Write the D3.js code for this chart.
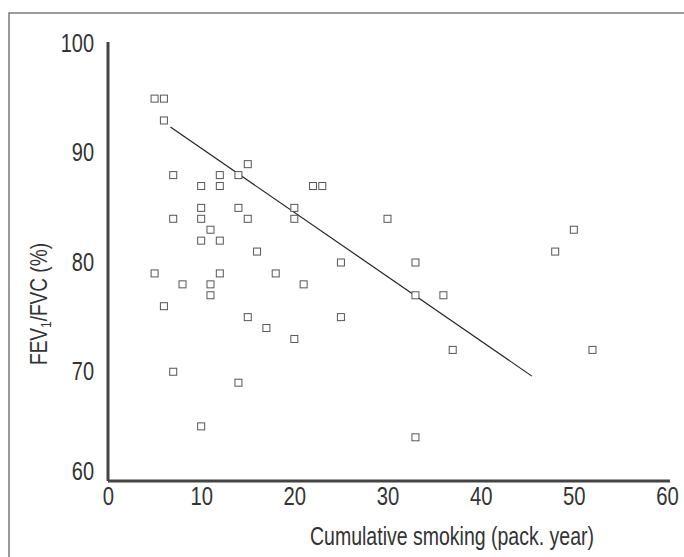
<!DOCTYPE html>
<html>
<head>
<meta charset="utf-8">
<script src="https://cdn.jsdelivr.net/npm/d3@7"></script>
<style>
  body { margin: 0; background: #fff; }
  svg { display: block; }
  text { font-family: "Liberation Sans Narrow", "Liberation Sans", sans-serif; fill: #333; }
</style>
</head>
<body>
<div id="painting"></div>
<script>
// smoking (pack. year) vs FEV1/FVC (%)
var packYears = [5, 6, 6, 15, 7, 12, 14, 10, 12, 22, 23, 10, 14, 20, 7, 10, 15, 20, 30, 11,
                 10, 12, 16, 48, 50, 25, 33, 5, 12, 18, 8, 11, 21, 11, 33, 36, 6, 15, 25, 17,
                 20, 37, 52, 7, 14, 10, 33];
var fevRatio = [95, 95, 93, 89, 88, 88, 88, 87, 87, 87, 87, 85, 85, 85, 84, 84, 84, 84, 84, 83,
                82, 82, 81, 81, 83, 80, 80, 79, 79, 79, 78, 78, 78, 77, 77, 77, 76, 75, 75, 74,
                73, 72, 72, 70, 69, 65, 64];

// regression line end points
var fitX = [6.7, 45.5];
var fitY = [92.4, 69.6];

var xTicks = [0, 10, 20, 30, 40, 50, 60];
var yTicks = [60, 70, 80, 90, 100];

var W = 684, H = 557;
var margin = {left: 108, top: 44, right: 17, bottom: 76};

var svg = d3.select("#painting").append("svg")
  .attr("width", W)
  .attr("height", H);

// frame
svg.append("rect")
  .attr("x", 9).attr("y", 13)
  .attr("width", W + 20).attr("height", H + 20)
  .attr("fill", "none")
  .attr("stroke", "#666")
  .attr("stroke-width", 1.3);

var xScale = d3.scaleLinear().domain([0, 60]).range([margin.left, W - margin.right]);
var yScale = d3.scaleLinear().domain([60, 100]).range([H - margin.bottom, margin.top]);

var xAxis = d3.axisBottom(xScale).tickValues(xTicks).tickSize(0);
var yAxis = d3.axisLeft(yScale).tickValues(yTicks).tickSize(0);

var gx = svg.append("g")
  .attr("transform", "translate(0," + yScale(60) + ")")
  .call(xAxis);
gx.select(".domain").remove();
gx.selectAll(".tick text")
  .attr("font-size", 26)
  .attr("fill", "#333")
  .attr("font-family", "'Liberation Sans Narrow', sans-serif")
  .attr("x", 0)
  .attr("y", 24)
  .attr("dy", 0)
  .attr("transform", "scale(0.78,1)");

var gy = svg.append("g")
  .attr("transform", "translate(" + xScale(0) + ",0)")
  .call(yAxis);
gy.select(".domain").remove();
gy.selectAll(".tick text")
  .attr("font-size", 25)
  .attr("fill", "#333")
  .attr("font-family", "'Liberation Sans Narrow', sans-serif")
  .attr("x", -14 / 0.8)
  .attr("dy", function(d) { return d === 60 ? "-0.05em" : "0.3em"; })
  .attr("transform", "scale(0.8,1)");

// axis lines
svg.append("line")
  .attr("x1", xScale(0)).attr("x2", xScale(0))
  .attr("y1", yScale(100) - 2).attr("y2", yScale(60))
  .attr("stroke", "#444").attr("stroke-width", 3);
svg.append("line")
  .attr("x1", xScale(0)).attr("x2", xScale(60) + 3)
  .attr("y1", yScale(60)).attr("y2", yScale(60))
  .attr("stroke", "#444").attr("stroke-width", 3);

// regression line
svg.append("line")
  .attr("x1", xScale(fitX[0])).attr("y1", yScale(fitY[0]))
  .attr("x2", xScale(fitX[1])).attr("y2", yScale(fitY[1]))
  .attr("stroke", "#222")
  .attr("stroke-width", 1.2);

// points
var pts = packYears.map(function(d, i) { return {x: d, y: fevRatio[i]}; });
var s = 7;
svg.append("g").selectAll("rect")
  .data(pts)
  .enter()
  .append("rect")
  .attr("x", function(d) { return xScale(d.x) - s / 2; })
  .attr("y", function(d) { return yScale(d.y) - s / 2; })
  .attr("width", s)
  .attr("height", s)
  .attr("fill", "#fff")
  .attr("stroke", "#555")
  .attr("stroke-width", 1);

// axis titles
svg.append("text")
  .attr("x", 310).attr("y", 545)
  .attr("font-size", 25)
  .attr("textLength", 284)
  .attr("lengthAdjust", "spacingAndGlyphs")
  .text("Cumulative smoking (pack. year)");

var yt = svg.append("text")
  .attr("transform", "translate(47,365) rotate(-90)")
  .attr("font-size", 24)
  .attr("textLength", 122)
  .attr("lengthAdjust", "spacingAndGlyphs");
yt.append("tspan").text("FEV");
yt.append("tspan").attr("font-size", 15).attr("dy", 4).text("1");
yt.append("tspan").attr("dy", -4).text("/FVC (%)");
</script>
</body>
</html>
